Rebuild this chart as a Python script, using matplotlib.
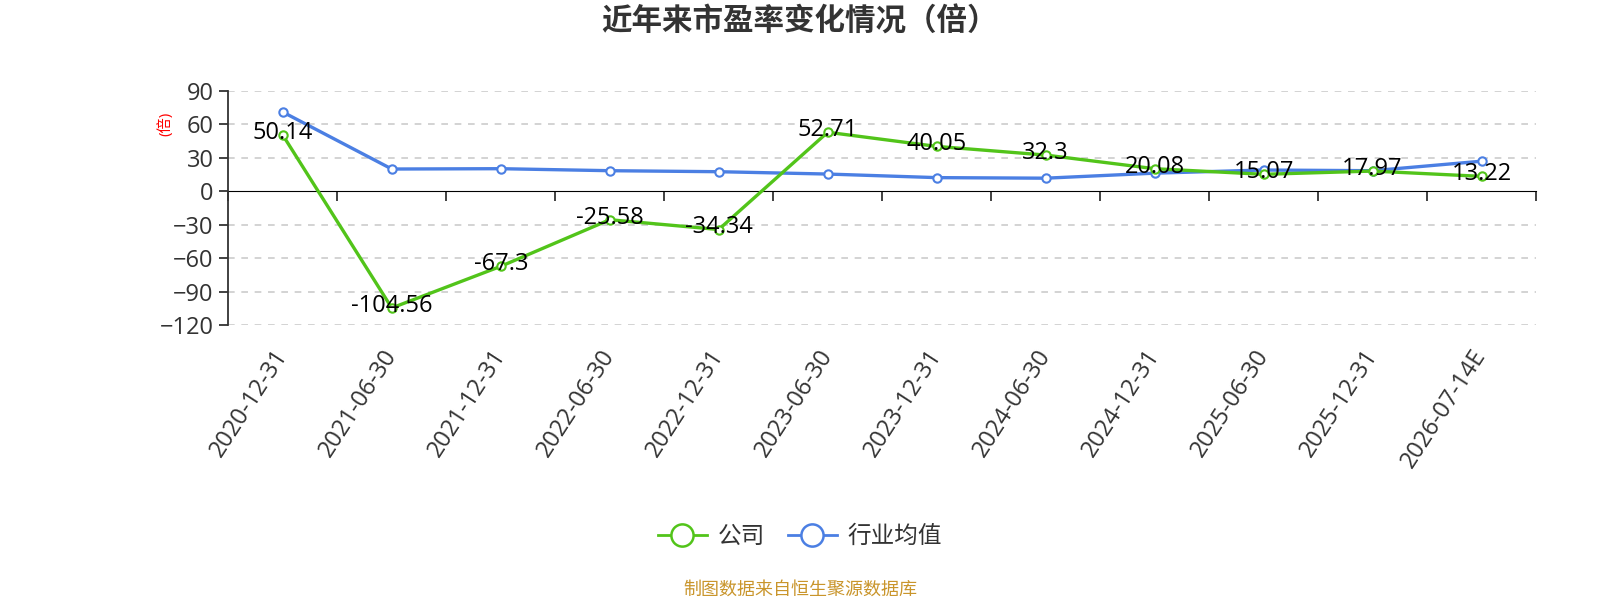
import matplotlib
matplotlib.use("Agg")
import matplotlib.pyplot as plt
from matplotlib.lines import Line2D

plt.rcParams["font.family"] = ["Open Sans", "Noto Sans CJK SC", "DejaVu Sans"]

# ── Data ──────────────────────────────────────────────────────────────────────
dates = ["2020-12-31", "2021-06-30", "2021-12-31", "2022-06-30", "2022-12-31",
         "2023-06-30", "2023-12-31", "2024-06-30", "2024-12-31", "2025-06-30",
         "2025-12-31", "2026-07-14E"]
company_pe = [50.14, -104.56, -67.3, -25.58, -34.34, 52.71, 40.05, 32.3,
              20.08, 15.07, 17.97, 13.22]
industry_pe = [70.8, 19.8, 20.1, 18.3, 17.4, 15.3, 12.1, 11.6, 16.1, 18.9,
               18.3, 26.8]
y_ticks = [-120, -90, -60, -30, 0, 30, 60, 90]

GREEN = "#52c41a"
BLUE = "#4b7fe3"
TEXT = "#333333"

x = list(range(len(dates)))

fig = plt.figure(figsize=(16, 6), dpi=100)
ax = fig.add_axes([0.1427, 0.458, 0.8173, 0.391])

ax.plot(x, company_pe, color=GREEN, lw=2.4, marker="o", ms=6,
        mfc="white", mec=GREEN, mew=1.5, zorder=4)
ax.plot(x, industry_pe, color=BLUE, lw=2.4, marker="o", ms=6,
        mfc="white", mec=BLUE, mew=1.5, zorder=3)

for xi, v in zip(x, company_pe):
    ax.annotate(f"{v:g}", (xi, v), xytext=(0, 1.5), textcoords="offset points",
                ha="center", va="center", fontsize=17, color="black", zorder=5)

ax.set_xlim(-0.5, len(dates) - 0.5)
ax.set_ylim(-120, 90)
ax.set_yticks(y_ticks)
ax.tick_params(axis="y", labelsize=17, labelcolor=TEXT, color=TEXT,
               length=6.5, width=1.3, pad=4)
ax.yaxis.grid(True, color="#cccccc", linestyle=(0, (4, 4)), lw=1.2)
ax.set_axisbelow(True)

ax.set_xticks(x)
ax.set_xticklabels(dates, rotation=57, ha="right", va="center",
                   rotation_mode="anchor", fontsize=17, color=TEXT)
ax.tick_params(axis="x", length=0, pad=19)

for side in ("top", "right", "bottom"):
    ax.spines[side].set_visible(False)
ax.spines["left"].set_color(TEXT)
ax.spines["left"].set_linewidth(1.3)

# zero gridline is covered by the category axis line
for tick_val, gl in zip(y_ticks, ax.yaxis.get_gridlines()):
    if tick_val == 0:
        gl.set_visible(False)

# axis line at zero with ticks between categories
zero_frac = (0 - (-120)) / (90 - (-120))
sec = ax.secondary_xaxis(zero_frac)
sec.set_xticks([i - 0.5 for i in range(len(dates) + 1)])
sec.set_xticklabels([])
sec.tick_params(axis="x", direction="out", length=7, width=1.3,
                color=TEXT, labelbottom=False)
sec.spines["bottom"].set_color(TEXT)
sec.spines["bottom"].set_linewidth(1.3)
sec.xaxis.set_ticks_position("bottom")

ax.text(-0.048, 0.858, "(倍)", transform=ax.transAxes, rotation=90,
        ha="center", va="center", fontsize=11, color="red")

fig.text(0.5, 0.962, "近年来市盈率变化情况（倍）", ha="center", va="center",
         fontsize=22, fontweight="bold", color=TEXT)

handles = [
    Line2D([], [], color=GREEN, lw=2, marker="o", ms=16, mfc="white",
           mec=GREEN, mew=1.8),
    Line2D([], [], color=BLUE, lw=2, marker="o", ms=16, mfc="white",
           mec=BLUE, mew=1.8),
]
fig.legend(handles, ["公司", "行业均值"], loc="center",
           bbox_to_anchor=(0.5, 0.105), ncol=2, frameon=False,
           fontsize=17, labelcolor=TEXT, handlelength=2.1,
           handletextpad=0.45, columnspacing=0.95)

fig.text(0.5, 0.017, "制图数据来自恒生聚源数据库", ha="center", va="center",
         fontsize=13, color="#C9952B")

fig.savefig("out.png", dpi=100)
plt.close(fig)
